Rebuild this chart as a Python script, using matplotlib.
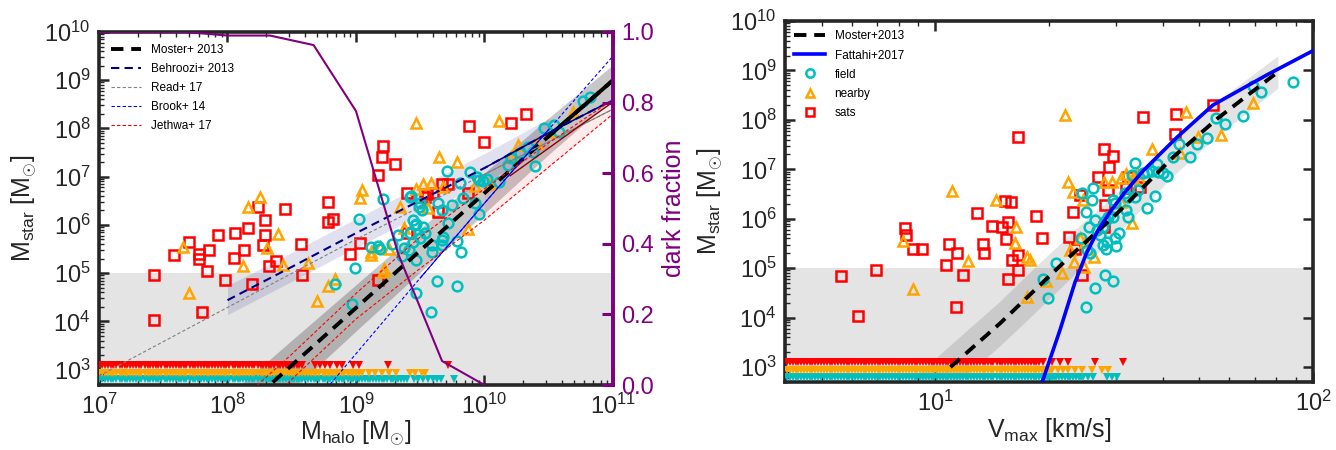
import numpy as np
import matplotlib
matplotlib.use("Agg")
import matplotlib.pyplot as plt
from matplotlib.ticker import LogLocator, NullFormatter

plt.rcParams['font.family'] = ['Liberation Sans', 'DejaVu Sans']
plt.rcParams['mathtext.fontset'] = 'custom'
plt.rcParams['mathtext.rm'] = 'Liberation Sans'
plt.rcParams['mathtext.it'] = 'Liberation Sans:italic'
plt.rcParams['mathtext.bf'] = 'Liberation Sans:bold'

# ---- left panel: stellar mass vs halo mass (all values are log10) ----
sats_mhalo = [9.21, 9.20, 9.30, 9.17, 8.78, 8.45, 8.24, 8.29, 8.78, 8.82, 9.40, 8.16,
              8.06, 7.93, 8.29, 7.70, 8.28, 8.57, 9.03, 7.86, 8.13, 7.58, 7.78, 7.78,
              8.05, 7.84, 8.38, 8.32, 8.95, 7.98, 7.43, 8.58, 8.19, 9.17, 7.80, 7.43,
              9.40, 10.32, 10.21, 9.88, 10.00, 9.72, 9.67, 9.55, 9.54, 9.60, 9.87, 9.64]
sats_mstar = [7.63, 7.41, 7.26, 7.03, 6.47, 6.33, 6.37, 6.10, 6.06, 6.12, 6.66, 5.93,
              5.83, 5.79, 5.79, 5.64, 5.58, 5.60, 5.62, 5.48, 5.48, 5.37, 5.39, 5.29,
              5.31, 5.04, 5.25, 5.15, 5.39, 4.85, 4.96, 4.96, 4.77, 4.85, 4.19, 4.02,
              5.83, 8.30, 8.11, 8.05, 7.72, 6.85, 6.85, 6.64, 6.58, 6.66, 6.66, 6.27]

nearby_mhalo = [9.47, 9.05, 9.03, 9.47, 9.34, 8.25, 8.16, 9.37, 7.65, 7.70, 8.39, 8.31,
                8.12, 8.43, 8.63, 8.84, 8.78, 8.70, 9.19, 9.12, 9.12, 9.26, 9.22, 9.21,
                9.65, 9.79, 10.11, 10.69, 10.26, 10.41, 10.21, 10.51, 9.52, 9.58, 9.68,
                9.93, 10.04, 9.56, 9.87]
nearby_mstar = [8.11, 6.72, 6.56, 6.74, 6.37, 6.58, 6.37, 5.93, 5.54, 4.58, 5.81, 5.52,
                5.15, 5.17, 5.21, 4.88, 4.73, 4.42, 5.54, 5.44, 5.37, 5.50, 5.08, 5.02,
                7.41, 7.30, 8.15, 8.34, 7.66, 7.70, 7.41, 7.93, 6.85, 6.87, 6.78,
                6.80, 6.85, 6.35, 5.91]

field_mhalo = [9.21, 9.02, 8.97, 8.99, 9.12, 9.17, 9.19, 9.28, 8.84, 9.43, 9.44, 9.47,
               9.44, 9.33, 9.49, 9.41, 9.36, 9.47, 9.47, 10.82, 10.77, 10.46, 10.54, 10.58,
               10.34, 10.28, 10.38, 10.39, 10.18, 10.21, 9.71, 9.89, 9.94, 9.96, 9.99, 10.02,
               10.11, 9.81, 9.42, 9.50, 9.51, 9.64, 9.75, 9.83, 9.67, 9.93, 9.96, 9.46,
               9.52, 9.54, 9.72, 9.68, 9.42, 9.50, 9.59, 9.59, 9.67, 9.67, 9.79, 9.82,
               9.37, 9.63, 9.79, 9.58]
field_mstar = [6.54, 6.12, 4.36, 5.10, 5.54, 5.56, 5.50, 5.60, 4.77, 6.60, 6.10, 6.02,
               5.64, 5.79, 6.37, 5.48, 5.35, 5.27, 4.58, 8.65, 8.57, 8.01, 8.07, 7.93,
               7.61, 7.49, 7.51, 7.22, 7.24, 7.39, 7.12, 7.10, 6.99, 6.93, 6.91, 6.95,
               6.89, 6.87, 6.58, 6.45, 6.31, 6.45, 6.41, 6.56, 6.31, 6.45, 6.22, 6.00,
               5.95, 5.83, 6.04, 5.75, 5.83, 5.73, 5.58, 5.44, 5.68, 5.58, 5.66, 5.44,
               5.52, 4.83, 4.73, 4.19]

# halos with no detected stars, shown as upper limits along the bottom
lim_mhalo = [6.98, 7.00, 7.02, 7.045, 7.07, 7.09, 7.11, 7.135, 7.16, 7.18, 7.20, 7.22,
             7.24, 7.265, 7.29, 7.31, 7.33, 7.355, 7.38, 7.40, 7.42, 7.44, 7.46, 7.485,
             7.51, 7.53, 7.55, 7.575, 7.60, 7.62, 7.64, 7.66, 7.68, 7.705, 7.73, 7.75,
             7.77, 7.795, 7.82, 7.84, 7.86, 7.88, 7.90, 7.925, 7.95, 7.97, 7.99, 8.015,
             8.04, 8.06, 8.08, 8.10, 8.12, 8.145, 8.17, 8.19, 8.21, 8.235, 8.26, 8.28,
             8.30, 8.32, 8.34, 8.365, 8.39, 8.41, 8.43, 8.455, 8.48, 8.50, 8.52, 8.54,
             8.56, 8.58, 8.60, 8.625, 8.65, 8.67, 8.69, 8.715, 8.74, 8.76, 8.78, 8.80,
             8.82, 8.845, 8.87, 8.89, 8.91, 8.935, 8.96, 8.98, 9.00, 9.025, 9.05, 9.07,
             9.09, 9.11, 9.13, 9.155, 9.18, 9.20, 9.22, 9.245, 9.27, 9.29, 9.31, 9.33,
             9.35, 9.375, 9.40]
lim_sats_extra = [8.68, 8.72, 8.76, 8.80, 8.85, 8.89, 8.98, 9.02, 9.25, 9.72]
lim_nearby_extra = [9.10, 9.15, 9.20, 9.26, 9.31, 9.42, 9.46, 9.51, 9.54]
lim_field_extra = [9.45, 9.48, 9.52, 9.56, 9.60, 9.63, 9.66, 9.76]
lim_level = {'sats': 3.10, 'nearby': 2.94, 'field': 2.81}

moster_mhalo = [8.0, 8.5, 9.0, 9.5, 10.0, 10.5, 11.0]
moster_mstar = [1.90, 3.09, 4.28, 5.47, 6.66, 7.84, 9.00]
moster_lo = [1.35, 2.57, 3.80, 5.02, 6.24, 7.46, 8.62]
moster_hi = [2.45, 3.61, 4.76, 5.92, 7.08, 8.22, 9.32]

behroozi_mhalo = [8.0, 8.5, 9.0, 9.5, 10.0, 10.5, 11.0]
behroozi_mstar = [4.44, 5.13, 5.83, 6.51, 7.18, 7.91, 8.59]
behroozi_lo = [4.14, 4.83, 5.53, 6.21, 6.88, 7.61, 8.29]
behroozi_hi = [4.74, 5.43, 6.13, 6.81, 7.48, 8.21, 8.89]

read_mhalo = [7.0, 8.0, 9.0, 10.0, 11.0]
read_mstar = [2.87, 4.29, 5.70, 7.05, 8.40]

brook_mhalo = [8.8, 9.5, 10.0, 10.5, 11.0]
brook_mstar = [2.70, 4.90, 6.45, 7.98, 9.50]

jethwa_mhalo = [8.2, 8.5, 9.0, 9.5, 10.0, 10.5, 11.0]
jethwa_hi = [2.60, 3.32, 4.58, 5.75, 6.75, 7.70, 8.60]
jethwa_lo = [1.95, 2.80, 4.05, 5.10, 6.10, 7.20, 8.30]
jethwa_mid_mhalo = [10.2, 11.0]
jethwa_mid_mstar = [7.02, 8.55]

dark_mhalo = [7.0, 7.33, 7.67, 8.0, 8.33, 8.67, 9.0, 9.33, 9.67, 10.0]
dark_frac = [1.0, 1.0, 1.0, 0.99, 0.99, 0.963, 0.776, 0.37, 0.068, 0.0]

# ---- right panel: stellar mass vs Vmax (log10) ----
sats_vmax = [1.220, 1.185, 1.201, 1.111, 1.151, 1.193, 1.177, 0.921, 0.923, 0.942,
             0.966, 1.037, 1.058, 1.029, 1.127, 1.130, 1.188, 1.204, 1.220, 1.220,
             1.193, 1.074, 0.751, 0.844, 0.796, 1.056, 1.267, 1.283, 1.365, 1.354,
             1.370, 1.384, 1.550, 1.638, 1.635, 1.735, 1.447, 1.471, 1.460, 1.431,
             1.511, 1.505, 1.542, 1.458, 1.450, 1.447, 1.389]
sats_mstar_v = [7.65, 6.36, 6.34, 6.11, 5.85, 5.93, 5.83, 5.81, 5.67, 5.38,
                5.38, 5.49, 5.30, 5.06, 5.49, 5.30, 5.59, 5.16, 5.26, 4.96,
                4.78, 4.86, 4.84, 4.96, 4.03, 4.21, 6.05, 5.61, 6.13, 5.63,
                5.38, 6.48, 8.06, 8.12, 7.71, 8.30, 7.41, 7.27, 7.04, 6.84,
                6.84, 6.62, 6.64, 6.58, 6.28, 5.83, 4.86]

nearby_vmax = [1.045, 1.161, 1.214, 0.915, 0.942, 1.087, 1.212, 1.344, 1.352, 1.365,
               1.243, 1.251, 1.294, 1.336, 1.368, 1.357, 1.243, 1.664, 1.574, 1.696,
               1.757, 1.841, 1.648, 1.468, 1.492, 1.505, 1.524, 1.542, 1.534, 1.447,
               1.392, 1.492, 1.521, 1.394, 1.397, 1.421, 1.384]
nearby_mstar_v = [6.56, 6.38, 5.83, 5.55, 4.57, 5.14, 5.51, 8.10, 6.74, 6.54,
                  5.22, 5.16, 4.74, 4.90, 5.12, 5.36, 4.41, 8.16, 7.41, 7.65,
                  7.69, 8.34, 7.33, 6.74, 6.82, 6.90, 6.82, 6.78, 6.92, 6.74,
                  6.38, 6.34, 5.91, 5.02, 5.53, 5.22, 5.61]

field_vmax = [1.320, 1.286, 1.299, 1.947, 1.841, 1.862, 1.743, 1.767, 1.815, 1.720,
              1.693, 1.646, 1.675, 1.630, 1.529, 1.587, 1.574, 1.590, 1.603, 1.614,
              1.561, 1.550, 1.521, 1.582, 1.561, 1.537, 1.529, 1.511, 1.503, 1.505,
              1.511, 1.476, 1.471, 1.418, 1.389, 1.415, 1.399, 1.458, 1.471, 1.452,
              1.444, 1.423, 1.407, 1.429, 1.437, 1.455, 1.444, 1.452, 1.479, 1.476,
              1.487, 1.386, 1.402, 1.410, 1.450, 1.471, 1.423, 1.399]
field_mstar_v = [5.10, 4.78, 4.39, 8.77, 8.68, 8.56, 8.04, 7.91, 8.08, 7.63,
                 7.51, 7.51, 7.25, 7.25, 7.13, 7.11, 6.96, 6.94, 6.92, 6.86,
                 6.94, 6.92, 6.88, 6.46, 6.21, 6.58, 6.44, 6.44, 6.52, 6.17,
                 6.03, 6.32, 6.38, 6.62, 6.52, 6.38, 6.13, 6.03, 6.03, 5.97,
                 5.83, 5.97, 5.83, 5.77, 5.67, 5.53, 5.47, 5.38, 5.45, 5.61,
                 5.71, 5.61, 5.36, 5.30, 4.86, 4.74, 4.60, 4.21]

lim_vmax = [0.600, 0.607, 0.615, 0.622, 0.630, 0.637, 0.645, 0.652, 0.660, 0.667,
            0.674, 0.682, 0.690, 0.697, 0.705, 0.712, 0.720, 0.727, 0.734, 0.742,
            0.750, 0.757, 0.765, 0.772, 0.780, 0.787, 0.794, 0.802, 0.810, 0.817,
            0.825, 0.832, 0.840, 0.847, 0.854, 0.862, 0.870, 0.877, 0.885, 0.892,
            0.900, 0.907, 0.914, 0.922, 0.930, 0.937, 0.945, 0.952, 0.960, 0.967,
            0.974, 0.982, 0.990, 0.997, 1.005, 1.012, 1.020, 1.027, 1.034, 1.042,
            1.050, 1.057, 1.065, 1.072, 1.080, 1.087, 1.094, 1.102, 1.110, 1.117,
            1.125, 1.132, 1.140, 1.147, 1.154, 1.162, 1.170, 1.177, 1.185, 1.192,
            1.200, 1.207, 1.214, 1.222, 1.230, 1.237, 1.245, 1.252, 1.260, 1.267,
            1.275, 1.282, 1.290, 1.295, 1.300, 1.305, 1.310, 1.315, 1.320, 1.327,
            1.335, 1.342, 1.350, 1.357, 1.365, 1.372, 1.380, 1.385, 1.390]
lim_sats_vextra = [1.286, 1.310, 1.330, 1.352, 1.423, 1.497]
lim_nearby_vextra = [1.325, 1.339, 1.352, 1.370, 1.389, 1.415, 1.442, 1.458]
lim_field_vextra = [1.405, 1.418, 1.455, 1.468, 1.481]
lim_level_v = {'sats': 3.10, 'nearby': 2.94, 'field': 2.81}

moster_vmax = [1.040, 1.172, 1.243, 1.365, 1.476, 1.630, 1.749, 1.907]
moster_mstar_v = [3.00, 3.89, 4.41, 5.30, 6.07, 7.25, 8.04, 8.97]
mband_vmax = [0.930, 1.040, 1.172, 1.243, 1.365, 1.476, 1.630, 1.749, 1.907]
mband_lo = [1.80, 2.55, 3.44, 3.95, 4.85, 5.65, 6.87, 7.69, 8.64]
mband_hi = [2.70, 3.45, 4.34, 4.87, 5.75, 6.49, 7.63, 8.39, 9.30]

fattahi_vmax = [1.283, 1.330, 1.370, 1.400, 1.430, 1.463, 1.500, 1.550, 1.640, 1.735,
                1.878, 2.000]
fattahi_mstar = [2.70, 3.75, 4.72, 5.30, 5.76, 6.14, 6.52, 6.97, 7.65, 8.30,
                 8.91, 9.40]

C_SATS = '#ff0000'
C_NEAR = '#ffa500'
C_FIELD = '#00bfbf'
C_DARK = '#800080'
C_AX = '#262626'


def exp10(vals):
    return 10.0 ** np.asarray(vals)


def style_axes(ax):
    for sp in ax.spines.values():
        sp.set_linewidth(2.6)
        sp.set_color(C_AX)
    ax.set_xscale('log')
    ax.set_yscale('log')
    ax.xaxis.set_major_locator(LogLocator(base=10, numticks=20))
    ax.yaxis.set_major_locator(LogLocator(base=10, numticks=20))
    ax.xaxis.set_minor_locator(LogLocator(base=10, subs=np.arange(2, 10), numticks=100))
    ax.yaxis.set_minor_locator(LogLocator(base=10, subs=np.arange(2, 10), numticks=100))
    ax.xaxis.set_minor_formatter(NullFormatter())
    ax.yaxis.set_minor_formatter(NullFormatter())
    ax.tick_params(which='both', direction='in', colors=C_AX, labelsize=17, top=True)
    ax.tick_params(which='major', length=7, width=1.8, pad=6)
    ax.tick_params(which='minor', length=3.5, width=1.0)


def draw_points(ax, xs, ys, marker, color, size, label=None):
    ax.plot(exp10(xs), exp10(ys), ls='none', marker=marker, mfc='none', mec=color,
            ms=size, mew=1.8, zorder=4, label=label)


def draw_limits(ax, xs, level, color):
    ax.plot(exp10(xs), np.full(len(xs), 10.0 ** level), ls='none', marker='v',
            color=color, ms=6, mew=0, zorder=3)


def left_panel(fig):
    ax = fig.add_axes([0.0741, 0.1444, 0.3847, 0.7845])
    style_axes(ax)
    ax.tick_params(right=False)

    ax.axhspan(1e2, 1e5, color='k', alpha=0.105, lw=0, zorder=0)
    ax.fill_between(exp10(moster_mhalo), exp10(moster_lo), exp10(moster_hi),
                    color='k', alpha=0.22, lw=0, zorder=1)
    nb = 6
    ax.fill_between(exp10(behroozi_mhalo[:nb]), exp10(behroozi_lo[:nb]), exp10(behroozi_hi[:nb]),
                    color='navy', alpha=0.12, lw=0, zorder=1)
    ax.fill_between(exp10(jethwa_mhalo[4:]), exp10(jethwa_lo[4:]), exp10(jethwa_hi[4:]),
                    color='red', alpha=0.08, lw=0, zorder=1)

    draw_points(ax, sats_mhalo, sats_mstar, 's', C_SATS, 6.5)
    draw_points(ax, nearby_mhalo, nearby_mstar, '^', C_NEAR, 7)
    draw_points(ax, field_mhalo, field_mstar, 'o', C_FIELD, 7)

    lim_sats = [v for v in lim_mhalo if v <= 8.58] + lim_sats_extra
    lim_near = [v for v in lim_mhalo if v <= 9.05] + lim_nearby_extra
    lim_field = list(lim_mhalo) + lim_field_extra
    draw_limits(ax, lim_field, lim_level['field'], C_FIELD)
    draw_limits(ax, lim_near, lim_level['nearby'], C_NEAR)
    draw_limits(ax, lim_sats, lim_level['sats'], C_SATS)

    ax.plot(exp10(moster_mhalo), exp10(moster_mstar), color='k', lw=2.8,
            dashes=(3.2, 2.0), zorder=5, label='Moster+ 2013')
    ax.plot(exp10(moster_mhalo[5:]), exp10(moster_mstar[5:]), color='k', lw=2.8, zorder=5)
    ax.plot(exp10(behroozi_mhalo), exp10(behroozi_mstar), color='navy', lw=1.5,
            dashes=(4, 2.5), zorder=5, label='Behroozi+ 2013')
    ax.plot(exp10(behroozi_mhalo[4:]), exp10(behroozi_mstar[4:]), color='navy', lw=1.1, zorder=5)
    ax.plot(exp10(read_mhalo), exp10(read_mstar), color='gray', lw=0.8,
            dashes=(3, 2), zorder=5, label='Read+ 17')
    ax.plot(exp10(read_mhalo[3:]), exp10(read_mstar[3:]), color='gray', lw=0.8, zorder=5)
    ax.plot(exp10(brook_mhalo), exp10(brook_mstar), color='blue', lw=0.8,
            dashes=(3, 2), zorder=5, label='Brook+ 14')
    ax.plot(exp10(brook_mhalo[1:4]), exp10(brook_mstar[1:4]), color='blue', lw=0.8, zorder=5)
    ax.plot(exp10(jethwa_mhalo), exp10(jethwa_hi), color='red', lw=0.8,
            dashes=(3, 2), zorder=5, label='Jethwa+ 17')
    ax.plot(exp10(jethwa_mhalo), exp10(jethwa_lo), color='red', lw=0.8,
            dashes=(3, 2), zorder=5)
    ax.plot(exp10(jethwa_mid_mhalo), exp10(jethwa_mid_mstar), color='darkred', lw=1.0, zorder=5)

    ax.set_xlim(1e7, 1e11)
    ax.set_ylim(480, 1e10)
    ax.set_xlabel(r'M$_{\rm halo}$ [M$_{\odot}$]', fontsize=18, color=C_AX, labelpad=0)
    ax.set_ylabel(r'M$_{\rm star}$ [M$_{\odot}$]', fontsize=18, color=C_AX, labelpad=4)
    ax.legend(loc='upper left', fontsize=8.5, frameon=False, handlelength=2.6,
              labelspacing=0.6, borderaxespad=0.6)

    # fraction of halos with no stars, on its own axis
    axd = ax.twinx()
    axd.plot(exp10(dark_mhalo), dark_frac, color=C_DARK, lw=1.5, zorder=6)
    axd.set_ylim(0, 1)
    axd.set_yticks([0.0, 0.2, 0.4, 0.6, 0.8, 1.0])
    axd.set_yticklabels(['0.0', '0.2', '0.4', '0.6', '0.8', '1.0'])
    axd.tick_params(axis='y', direction='in', colors=C_DARK, labelsize=17,
                    length=8, width=2.2, pad=6)
    for name, sp in axd.spines.items():
        sp.set_visible(name == 'right')
    axd.spines['right'].set_color(C_DARK)
    axd.spines['right'].set_linewidth(2.6)
    axd.set_ylabel('dark fraction', fontsize=18, color=C_DARK, labelpad=6)


def right_panel(fig):
    ax = fig.add_axes([0.5876, 0.1511, 0.3952, 0.8022])
    style_axes(ax)
    ax.tick_params(right=True)

    ax.axhspan(1e2, 1e5, color='k', alpha=0.105, lw=0, zorder=0)
    ax.fill_between(exp10(mband_vmax), exp10(mband_lo), exp10(mband_hi),
                    color='k', alpha=0.11, lw=0, zorder=1)

    draw_points(ax, sats_vmax, sats_mstar_v, 's', C_SATS, 6.5)
    draw_points(ax, nearby_vmax, nearby_mstar_v, '^', C_NEAR, 7)
    draw_points(ax, field_vmax, field_mstar_v, 'o', C_FIELD, 7)

    lim_sats = [v for v in lim_vmax if v <= 1.275] + lim_sats_vextra
    lim_near = [v for v in lim_vmax if v <= 1.31] + lim_nearby_vextra
    lim_field = list(lim_vmax) + lim_field_vextra
    draw_limits(ax, lim_field, lim_level_v['field'], C_FIELD)
    draw_limits(ax, lim_near, lim_level_v['nearby'], C_NEAR)
    draw_limits(ax, lim_sats, lim_level_v['sats'], C_SATS)

    ax.plot(exp10(moster_vmax), exp10(moster_mstar_v), color='k', lw=2.8,
            dashes=(3.2, 2.0), zorder=5, label='Moster+2013')
    ax.plot(exp10(fattahi_vmax), exp10(fattahi_mstar), color='blue', lw=2.6,
            zorder=5, label='Fattahi+2017')

    # legend-only handles for the three samples
    ax.plot([], [], ls='none', marker='o', mfc='none', mec=C_FIELD, ms=6, mew=1.8, label='field')
    ax.plot([], [], ls='none', marker='^', mfc='none', mec=C_NEAR, ms=6, mew=1.8, label='nearby')
    ax.plot([], [], ls='none', marker='s', mfc='none', mec=C_SATS, ms=6, mew=1.8, label='sats')

    ax.set_xlim(4, 100)
    ax.set_ylim(500, 1e10)
    ax.set_xlabel(r'V$_{\rm max}$ [km/s]', fontsize=18, color=C_AX, labelpad=0)
    ax.set_ylabel(r'M$_{\rm star}$ [M$_{\odot}$]', fontsize=18, color=C_AX, labelpad=4)
    ax.legend(loc='upper left', fontsize=8.5, frameon=False, handlelength=2.6,
              labelspacing=0.6, borderaxespad=0.4)


def main():
    fig = plt.figure(figsize=(13.36, 4.5), dpi=100)
    left_panel(fig)
    right_panel(fig)
    fig.savefig('out.png', dpi=100)


if __name__ == "__main__":
    main()
